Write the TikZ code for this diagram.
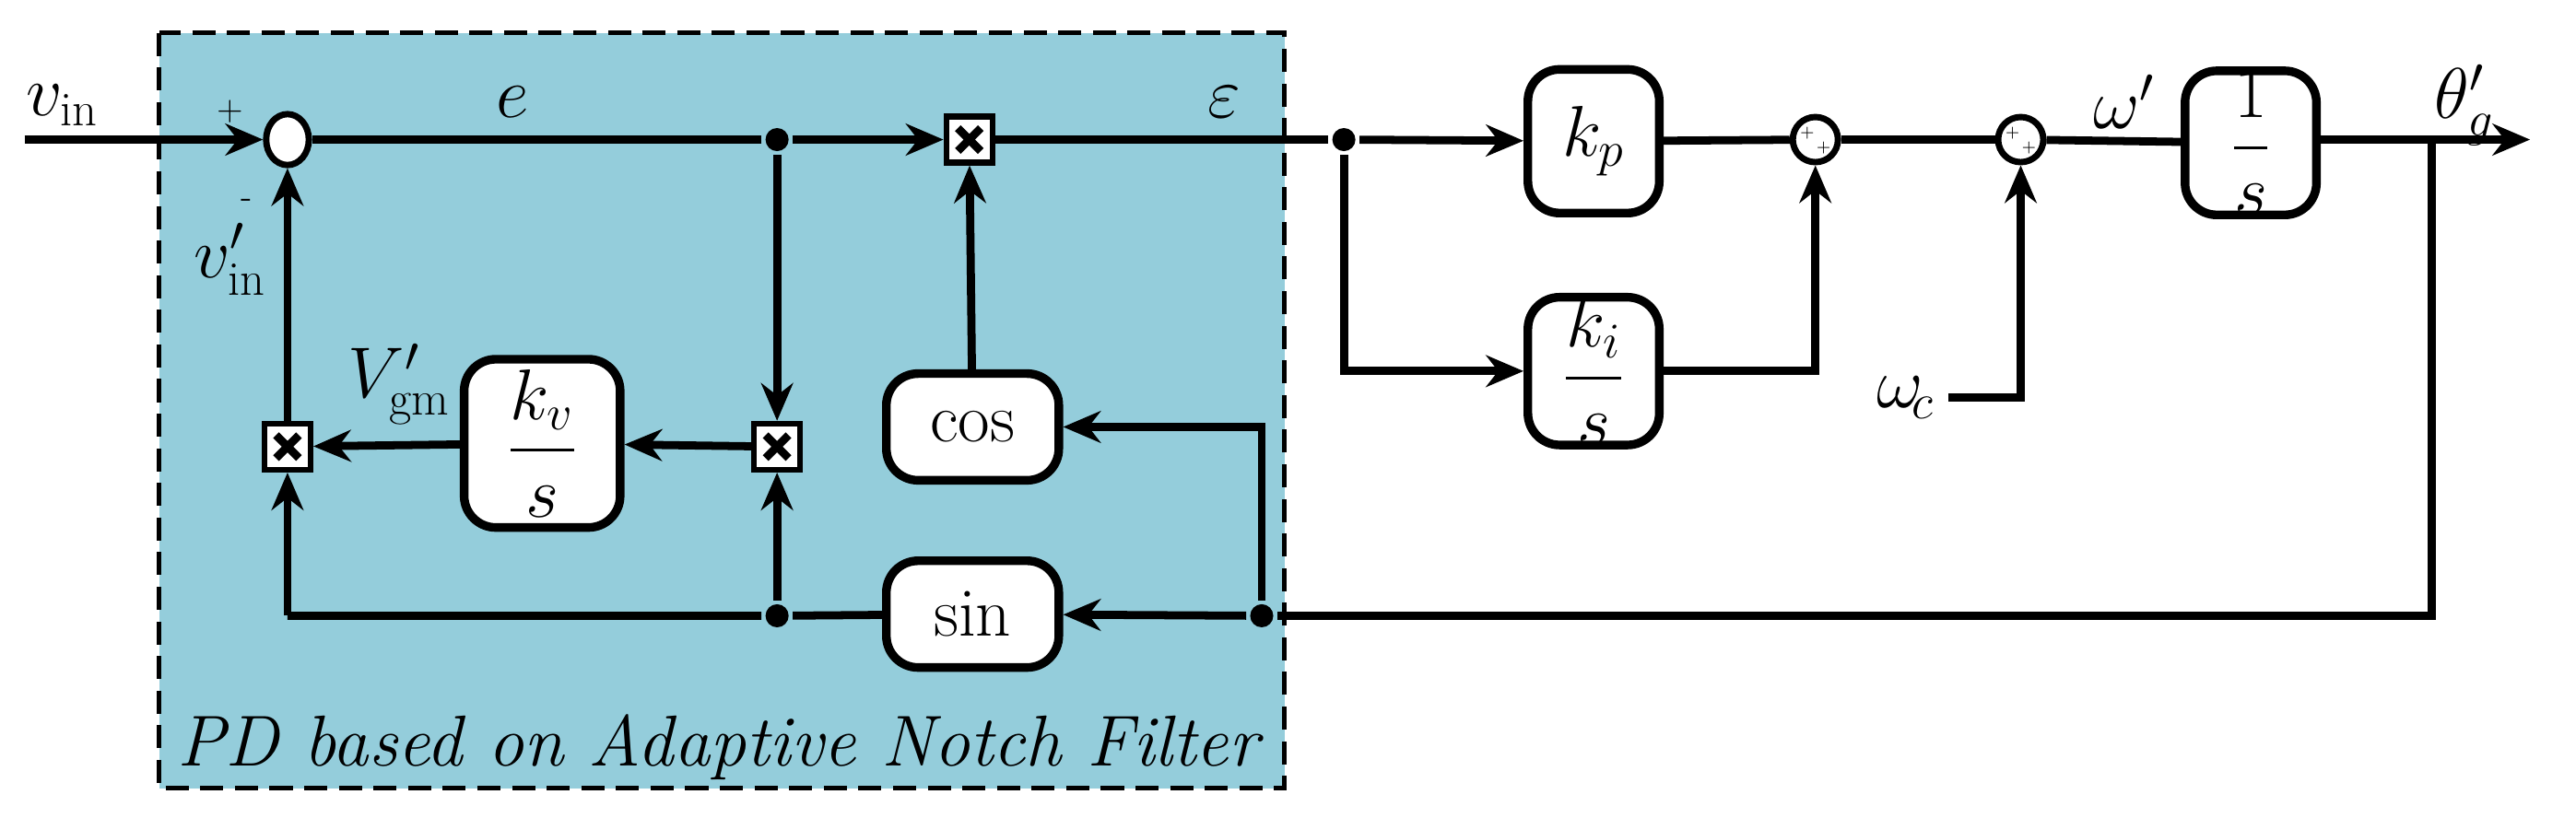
\documentclass[tikz,border=0pt]{standalone}
\usepackage{amsmath}
\usetikzlibrary{arrows.meta,calc,shapes.geometric}
\definecolor{pdblue}{RGB}{148,205,219}
\begin{document}
\begin{tikzpicture}[x=0.02cm,y=-0.02cm,line width=2.8pt,
  font=\fontsize{24}{28}\selectfont,
  >={Stealth[length=13pt,width=11pt]},
  blk/.style={draw,fill=white,rounded corners=11pt,line width=3pt,inner sep=0pt},
  mul/.style={draw,fill=white,minimum size=0.56cm,inner sep=0pt,line width=2pt,
    path picture={\draw[line width=2.8pt] ($(path picture bounding box.south west)+(4pt,4pt)$) -- ($(path picture bounding box.north east)+(-4pt,-4pt)$)
      ($(path picture bounding box.north west)+(4pt,-4pt)$) -- ($(path picture bounding box.south east)+(-4pt,4pt)$);}},
  sm/.style={draw,fill=white,circle,minimum size=0.55cm,inner sep=0pt,line width=2.2pt},
  dot/.style={circle,fill=black,minimum size=8pt,inner sep=0pt}]
\useasboundingbox (0,0) rectangle (1568,498);
\fill[pdblue] (97,20) rectangle (782,480);
\draw[line width=1.6pt,dash pattern=on 8pt off 4pt] (97,20) rectangle (782,480);
\node[font=\fontsize{25}{28}\selectfont\itshape] (pd) at (437,455) {PD based on Adaptive Notch Filter};

% nodes
\coordinate (in) at (15,85);
\node[draw,fill=white,ellipse,minimum width=0.52cm,minimum height=0.62cm,inner sep=0pt,line width=2.2pt] (s1) at (175,85) {};
\node[dot] (de) at (473,85) {};
\node[mul] (m1) at (590,85) {};
\node[dot] (dx) at (818,85) {};
\node[blk,minimum width=1.6cm,minimum height=1.75cm] (kp) at (970,86) {$k_p$};
\node[blk,minimum width=1.6cm,minimum height=1.8cm] (ki) at (970,226) {$\dfrac{k_i}{s}$};
\node[sm] (s2) at (1105,85) {};
\node[sm] (s3) at (1230,85) {};
\node[blk,minimum width=1.6cm,minimum height=1.75cm] (int) at (1370,87) {$\dfrac{1}{s}$};
\coordinate (out) at (1540,85);
\coordinate (br) at (1480,85);
\coordinate (brd) at (1480,375);
\node (wc) at (1160,242) {$\omega_{\!c}$};
\node[mul] (m2) at (473,272) {};
\node[mul] (m3) at (175,272) {};
\node[blk,minimum width=1.9cm,minimum height=2.05cm] (kv) at (330,270) {$\dfrac{k_v}{s}$};
\node[blk,minimum width=2.1cm,minimum height=1.3cm] (cos) at (592,260) {cos};
\node[blk,minimum width=2.1cm,minimum height=1.3cm] (sin) at (592,374) {sin};
\node[dot] (ds) at (768,375) {};
\node[dot] (db) at (473,375) {};
\coordinate (c3) at (175,375);

% labels
\node at (38,64) {$v_{\text{in}}$};
\node[font=\large] at (140,68) {+};
\node[font=\large] at (150,124) {-};
\node at (140,158) {$v'_{\text{in}}$};
\node at (312,62) {$e$};
\node at (745,62) {$\varepsilon$};
\node at (243,234) {$V'_{\text{gm}}$};
\node at (1293,62) {$\omega'$};
\node at (1500,64) {$\theta'_{g}$};
\node[font=\tiny] at (1100,81) {+};
\node[font=\tiny] at (1110,90) {+};
\node[font=\tiny] at (1225,81) {+};
\node[font=\tiny] at (1235,90) {+};

% connectors
\draw[->] (in) -- (s1);
\draw (s1) -- (de);
\draw[->] (de) -- (m1);
\draw (m1) -- (dx);
\draw[->] (dx) -- (kp);
\draw[->] (dx) |- (ki);
\draw (kp) -- (s2);
\draw[->] (ki) -| (s2);
\draw (s2) -- (s3);
\draw[->] (wc) -| (s3);
\draw (s3) -- (int);
\draw[->] (int.east |- out) -- (out);
\draw (br) -- (brd) -- (ds);
\draw[->] (ds) -- (sin);
\draw[->] (ds) |- (cos);
\draw[->] (cos) -- (m1);
\draw[->] (de) -- (m2);
\draw[->] (m2) -- (kv);
\draw[->] (kv) -- (m3);
\draw (sin) -- (db) -- (c3);
\draw[->] (c3) -- (m3);
\draw[->] (db) -- (m2);
\draw[->] (m3) -- (s1);
\end{tikzpicture}
\end{document}
